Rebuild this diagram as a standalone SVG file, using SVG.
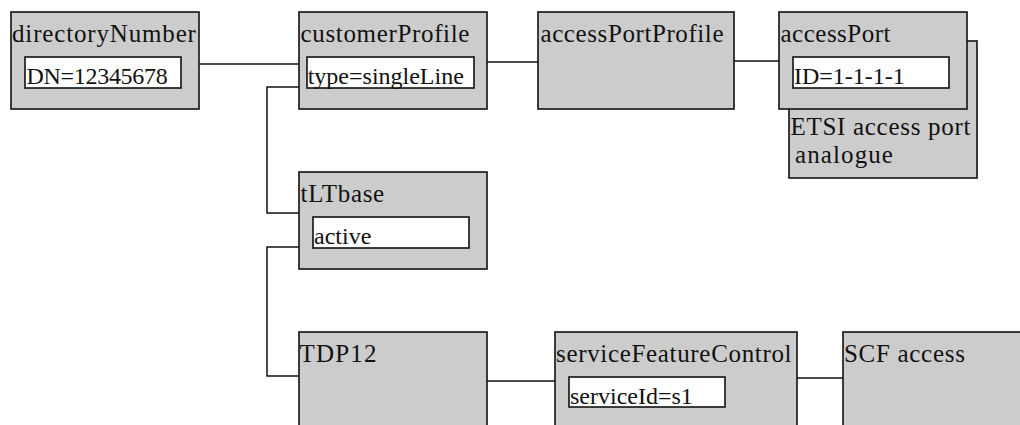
<svg xmlns="http://www.w3.org/2000/svg" width="1020" height="425" viewBox="0 0 1020 425">
<style>
.box{fill:#cccccc;stroke:#111;stroke-width:1.6}
.inner{fill:#ffffff;stroke:#111;stroke-width:1.6}
.c{fill:none;stroke:#111;stroke-width:1.5}
</style>
<rect x="0" y="0" width="1020" height="425" fill="#ffffff"/>
<g id="connectors">
<line class="c" x1="199" y1="64" x2="299" y2="64"/>
<line class="c" x1="487" y1="62" x2="538" y2="62"/>
<line class="c" x1="734" y1="61" x2="779" y2="61"/>
<polyline class="c" points="299,87 267,87 267,213 299,213"/>
<polyline class="c" points="299,247 267,247 267,376 299,376"/>
<line class="c" x1="487" y1="381" x2="555" y2="381"/>
<line class="c" x1="797" y1="378" x2="843" y2="378"/>
</g>
<g font-family="Liberation Serif, serif" font-size="25" fill="#111">
<g id="directoryNumber">
<rect class="box" x="11" y="12" width="188" height="97"/>
<text x="12" y="42" letter-spacing="0.84">directoryNumber</text>
<rect class="inner" x="25" y="57" width="156" height="31"/>
<text x="26.5" y="84" font-size="24" letter-spacing="-0.3">DN=12345678</text>
</g>
<g id="customerProfile">
<rect class="box" x="299" y="12" width="188" height="97"/>
<text x="300.5" y="42" letter-spacing="0.66">customerProfile</text>
<rect class="inner" x="307" y="57" width="167" height="31"/>
<text x="307.7" y="84" font-size="24">type=singleLine</text>
</g>
<g id="accessPortProfile">
<rect class="box" x="538" y="12" width="196" height="97"/>
<text x="540.5" y="42" letter-spacing="0.59">accessPortProfile</text>
</g>
<g id="etsiAccessPort">
<rect class="box" x="789" y="41" width="188" height="137"/>
<text x="790.5" y="135" letter-spacing="0.7">ETSI access port</text>
<text x="795" y="163" letter-spacing="1.1">analogue</text>
</g>
<g id="accessPort">
<rect class="box" x="779" y="12" width="188" height="97"/>
<text x="780.5" y="42" letter-spacing="0.5">accessPort</text>
<rect class="inner" x="793" y="57" width="156" height="31"/>
<text x="794" y="84" font-size="24">ID=1-1-1-1</text>
</g>
<g id="tLTbase">
<rect class="box" x="299" y="172" width="188" height="97"/>
<text x="300.5" y="202" letter-spacing="0.68">tLTbase</text>
<rect class="inner" x="313" y="217" width="156" height="31"/>
<text x="314" y="244" font-size="24">active</text>
</g>
<g id="TDP12">
<rect class="box" x="299" y="332" width="188" height="110"/>
<text x="299.5" y="362" letter-spacing="1.2">TDP12</text>
</g>
<g id="serviceFeatureControl">
<rect class="box" x="555" y="332" width="242" height="110"/>
<text x="556" y="362" letter-spacing="0.67">serviceFeatureControl</text>
<rect class="inner" x="569" y="377" width="156" height="30"/>
<text x="570" y="404" font-size="24">serviceId=s1</text>
</g>
<g id="SCFaccess">
<rect class="box" x="843" y="332" width="200" height="110"/>
<text x="844" y="362" letter-spacing="0.7">SCF access</text>
</g>
</g>
</svg>
